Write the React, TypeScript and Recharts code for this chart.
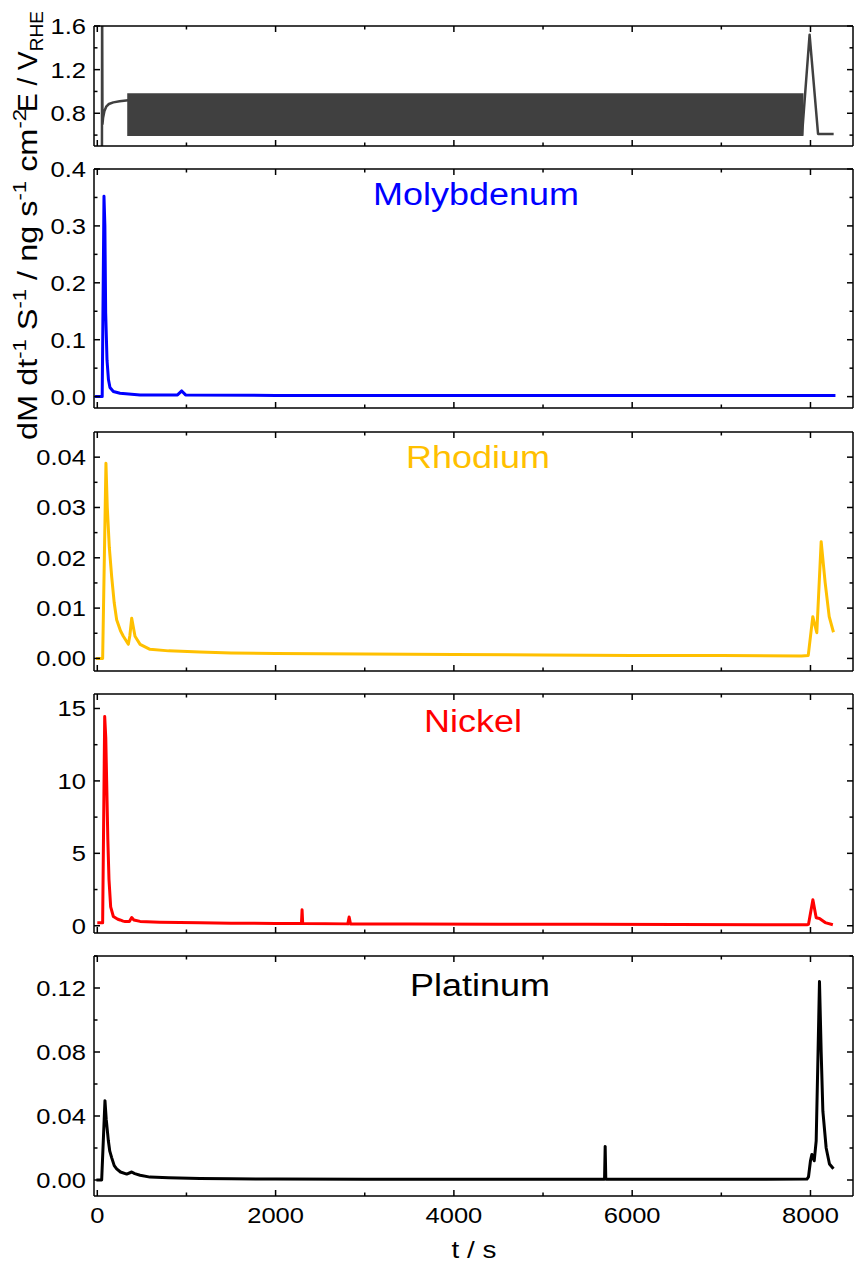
import React from 'react';
import { LineChart, Line, XAxis, YAxis, ReferenceArea } from 'recharts';

const W = 854;
const FONT = '"Liberation Sans", Arial, sans-serif';
const SX = 1.16; // the original's lettering is a little wide

const X_DOMAIN: [number, number] = [-37, 8477];
const X_TICKS = [0, 1000, 2000, 3000, 4000, 5000, 6000, 7000, 8000];
const X_MAJOR = [0, 2000, 4000, 6000, 8000];

// potential
const eRampTime = [0, 52, 54, 58, 65, 80, 100, 130, 180, 250, 347];
const eRampVolt = [0.3, 0.3, 1.9, 0.7, 0.76, 0.82, 0.86, 0.885, 0.9, 0.91, 0.92];
const eStepTime = [7905, 7990, 8085, 8260];
const eStepVolt = [0.6, 1.52, 0.61, 0.61];
const cycleStart = 347;
const cycleEnd = 7910;
const cycleLow = 0.6;
const cycleHigh = 0.975;

// molybdenum
const moTime = [-25, 55, 75, 85, 94, 109, 125, 142, 180, 255, 480, 900, 947, 990, 2000, 4000, 6000, 8000, 8280];
const moRate = [0, 0, 0.352, 0.3, 0.147, 0.064, 0.03, 0.016, 0.009, 0.006, 0.003, 0.003, 0.01, 0.003, 0.002, 0.002, 0.002, 0.002, 0.002];

// rhodium
const rhTime = [-15, 60, 97, 112, 135, 161, 190, 217, 260, 292, 348, 365, 386, 423, 480, 591, 800, 1150, 1500, 2000, 3000, 4000, 5000, 6000, 7000, 7900, 7975, 8026, 8071, 8120, 8165, 8210, 8258];
const rhRate = [0, 0, 0.0388, 0.03, 0.022, 0.0163, 0.011, 0.0077, 0.0055, 0.0044, 0.0028, 0.0045, 0.008, 0.0044, 0.0028, 0.0018, 0.0015, 0.0013, 0.0011, 0.001, 0.0009, 0.0008, 0.0007, 0.0006, 0.0006, 0.0005, 0.0006, 0.0083, 0.0051, 0.0232, 0.015, 0.0083, 0.0052];

// nickel
const niTime = [0, 60, 83, 95, 105, 118, 131, 150, 180, 230, 255, 290, 311, 360, 386, 410, 480, 700, 1150, 1500, 2000, 2290, 2297, 2304, 2810, 2825, 2840, 3500, 4500, 5500, 6500, 7500, 7960, 7978, 8027, 8064, 8101, 8165, 8251];
const niRate = [0.2, 0.2, 14.45, 13, 10, 6, 3.2, 1.3, 0.64, 0.45, 0.4, 0.32, 0.3, 0.3, 0.57, 0.4, 0.3, 0.25, 0.2, 0.18, 0.16, 0.15, 1.1, 0.15, 0.13, 0.6, 0.13, 0.12, 0.1, 0.1, 0.08, 0.07, 0.07, 0.1, 1.8, 0.55, 0.5, 0.22, 0.07];

// platinum
const ptTime = [-10, 49, 86, 100, 124, 140, 161, 190, 217, 260, 330, 386, 420, 480, 591, 800, 1150, 1500, 2000, 3000, 4000, 5000, 5690, 5697, 5704, 6500, 7500, 7960, 7978, 8000, 8016, 8042, 8064, 8085, 8101, 8120, 8139, 8176, 8213, 8258];
const ptRate = [0, 0, 0.0496, 0.038, 0.0245, 0.018, 0.014, 0.009, 0.007, 0.005, 0.0037, 0.005, 0.004, 0.003, 0.0018, 0.0014, 0.001, 0.0008, 0.0006, 0.0005, 0.0005, 0.0005, 0.0005, 0.021, 0.0005, 0.0005, 0.0005, 0.0006, 0.002, 0.012, 0.016, 0.012, 0.0245, 0.08, 0.124, 0.08, 0.043, 0.02, 0.01, 0.007];

const toRows = (ts: number[], vs: (number | null)[]) => ts.map((t, i) => ({ t, v: vs[i] }));

const eRows = [...toRows(eRampTime, eRampVolt), { t: 4000, v: null }, ...toRows(eStepTime, eStepVolt)];

type Side = 'left' | 'right' | 'top' | 'bottom';

function makeTick(side: Side, major: number[], margin: number, fmt?: (v: number) => string) {
  return (props: any) => {
    const { x, y, payload } = props;
    const v = payload.value;
    const isMajor = major.some((m) => Math.abs(m - v) < 1e-9);
    const len = isMajor ? 6 : 3.5;
    let line = null;
    if (side === 'left') {
      const ax = x + margin;
      line = <line x1={ax} x2={ax + len} y1={y} y2={y} />;
    } else if (side === 'right') {
      const ax = x - margin;
      line = <line x1={ax} x2={ax - len} y1={y} y2={y} />;
    } else if (side === 'bottom') {
      const ay = y - margin;
      line = <line x1={x} x2={x} y1={ay} y2={ay - len} />;
    } else {
      const ay = y + margin;
      line = <line x1={x} x2={x} y1={ay} y2={ay + len} />;
    }
    return (
      <g>
        <g stroke="#000" strokeWidth={1.5}>{line}</g>
        {fmt && isMajor && (
          <text
            transform={`translate(${x},${y}) scale(${SX},1)`}
            textAnchor={side === 'left' ? 'end' : 'middle'}
            dy={side === 'left' ? '0.36em' : '0.72em'}
            fontSize={22}
            fontFamily={FONT}
            fill="#000"
          >
            {fmt(v)}
          </text>
        )}
      </g>
    );
  };
}

const axisLine = { stroke: '#000', strokeWidth: 1.5 };
const PAD = 14;

interface PanelProps {
  top: number;
  plotH: number;
  rows: any[];
  color: string;
  width?: number;
  yDomain: [number, number];
  yTicks: number[];
  yMajor: number[];
  yFmt: (v: number) => string;
  xLabels?: boolean;
  band?: boolean;
}

function Panel({ top, plotH, rows, color, width = 3, yDomain, yTicks, yMajor, yFmt, xLabels, band }: PanelProps) {
  const extra = xLabels ? 40 : 0;
  return (
    <div style={{ position: 'absolute', left: 0, top: top - PAD - 1 }}>
      <LineChart
        width={W}
        height={plotH + 2 * PAD + 2 + extra}
        data={rows}
        margin={{ top: PAD, right: 0, bottom: PAD + extra, left: 0 }}
      >
        <XAxis
          xAxisId="b"
          type="number"
          dataKey="t"
          domain={X_DOMAIN}
          allowDataOverflow
          ticks={X_TICKS}
          interval={0}
          orientation="bottom"
          height={1}
          tickSize={0}
          tickMargin={11}
          tickLine={false}
          axisLine={axisLine}
          tick={makeTick('bottom', X_MAJOR, 11, xLabels ? (v) => String(v) : undefined)}
        />
        <XAxis
          xAxisId="t"
          type="number"
          dataKey="t"
          domain={X_DOMAIN}
          allowDataOverflow
          ticks={X_TICKS}
          interval={0}
          orientation="top"
          height={1}
          tickSize={0}
          tickMargin={0}
          tickLine={false}
          axisLine={axisLine}
          tick={makeTick('top', X_MAJOR, 0)}
        />
        <YAxis
          yAxisId="l"
          type="number"
          domain={yDomain}
          allowDataOverflow
          ticks={yTicks}
          interval={0}
          width={94}
          tickSize={0}
          tickMargin={8}
          tickLine={false}
          axisLine={axisLine}
          tick={makeTick('left', yMajor, 8, yFmt)}
        />
        <YAxis
          yAxisId="r"
          orientation="right"
          type="number"
          domain={yDomain}
          allowDataOverflow
          ticks={yTicks}
          interval={0}
          width={1}
          tickSize={0}
          tickMargin={0}
          tickLine={false}
          axisLine={axisLine}
          tick={makeTick('right', yMajor, 0)}
        />
        <Line
          xAxisId="b"
          yAxisId="l"
          type="linear"
          dataKey="v"
          stroke={color}
          strokeWidth={width}
          strokeLinejoin="round"
          dot={false}
          activeDot={false}
          isAnimationActive={false}
        />
        {band && (
          <ReferenceArea
            xAxisId="b"
            yAxisId="l"
            x1={cycleStart}
            x2={cycleEnd}
            y1={cycleLow}
            y2={cycleHigh}
            fill="#404040"
            fillOpacity={1}
            stroke="#404040"
            strokeWidth={2}
            ifOverflow="hidden"
          />
        )}
      </LineChart>
    </div>
  );
}

export default function App() {
  return (
    <div style={{ position: 'absolute', left: 0, top: 0, width: W, height: 1272, background: '#fff' }}>
      <Panel top={26} plotH={120} rows={eRows} color="#404040" width={2.5} band
        yDomain={[0.5, 1.6]} yTicks={[0.6, 0.8, 1.0, 1.2, 1.4, 1.6]} yMajor={[0.8, 1.2, 1.6]} yFmt={(v) => v.toFixed(1)} />
      <Panel top={169} plotH={239} rows={toRows(moTime, moRate)} color="#0000FF"
        yDomain={[-0.02, 0.4]} yTicks={[0, 0.05, 0.1, 0.15, 0.2, 0.25, 0.3, 0.35, 0.4]} yMajor={[0, 0.1, 0.2, 0.3, 0.4]} yFmt={(v) => v.toFixed(1)} />
      <Panel top={432} plotH={239} rows={toRows(rhTime, rhRate)} color="#FFC000"
        yDomain={[-0.0025, 0.045]} yTicks={[0, 0.005, 0.01, 0.015, 0.02, 0.025, 0.03, 0.035, 0.04]} yMajor={[0, 0.01, 0.02, 0.03, 0.04]} yFmt={(v) => v.toFixed(2)} />
      <Panel top={694} plotH={239} rows={toRows(niTime, niRate)} color="#FF0000"
        yDomain={[-0.5, 16]} yTicks={[0, 2.5, 5, 7.5, 10, 12.5, 15]} yMajor={[0, 5, 10, 15]} yFmt={(v) => String(v)} />
      <Panel top={956} plotH={240} rows={toRows(ptTime, ptRate)} color="#000000" xLabels
        yDomain={[-0.01, 0.14]} yTicks={[0, 0.02, 0.04, 0.06, 0.08, 0.1, 0.12, 0.14]} yMajor={[0, 0.04, 0.08, 0.12]} yFmt={(v) => v.toFixed(2)} />

      <svg width={W} height={1272} style={{ position: 'absolute', left: 0, top: 0, pointerEvents: 'none' }}
        fontFamily={FONT}>
        <g fontSize={31} textAnchor="middle">
          <text transform={`translate(476,205) scale(${SX},1)`} fill="#0000FF">Molybdenum</text>
          <text transform={`translate(478,468) scale(${SX},1)`} fill="#FFC000">Rhodium</text>
          <text transform={`translate(473,732) scale(${SX},1)`} fill="#FF0000">Nickel</text>
          <text transform={`translate(480,996) scale(${SX},1)`} fill="#000">Platinum</text>
        </g>
        <text transform={`translate(474,1258) scale(${SX},1)`} fontSize={24} textAnchor="middle" fill="#000">t / s</text>
        <text transform={`translate(37,440) rotate(-90) scale(${SX},1)`} fontSize={28} fill="#000">
          <tspan>dM dt</tspan>
          <tspan dy={-11} fontSize={19}>-1</tspan>
          <tspan dy={11}> S</tspan>
          <tspan dy={-11} fontSize={19}>-1</tspan>
          <tspan dy={11}> / ng s</tspan>
          <tspan dy={-11} fontSize={19}>-1</tspan>
          <tspan dy={11}> cm</tspan>
          <tspan dy={-11} fontSize={19}>-2</tspan>
        </text>
        <text transform="translate(37,112) rotate(-90)" fontSize={28} fill="#000">
          <tspan>E / V</tspan>
          <tspan dy={6} fontSize={19}>RHE</tspan>
        </text>
      </svg>
    </div>
  );
}
